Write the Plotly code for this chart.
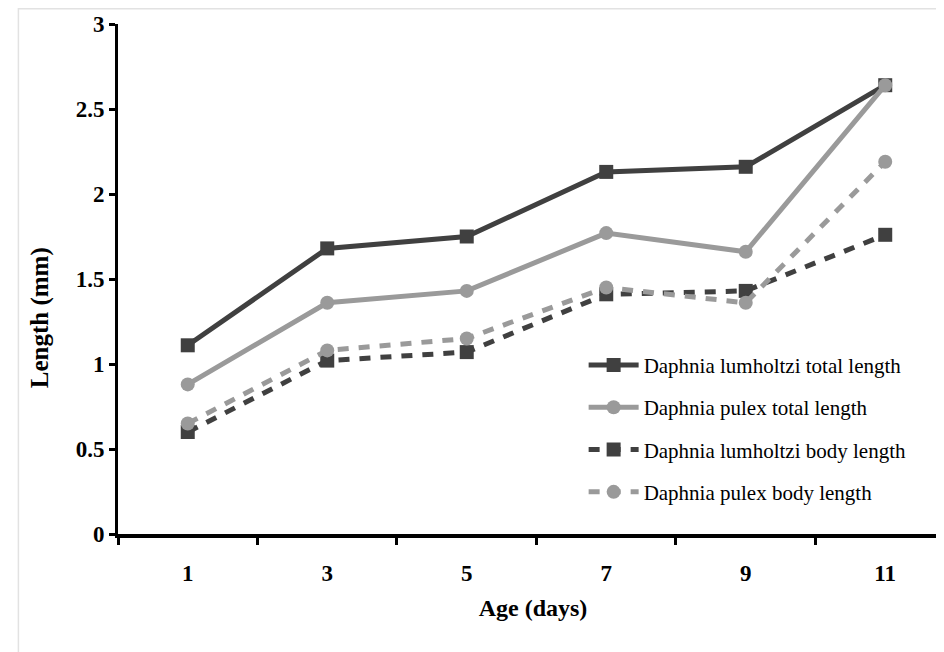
import plotly.graph_objects as go

ages = ["1", "3", "5", "7", "9", "11"]
lumholtzi_total = [1.11, 1.68, 1.75, 2.13, 2.16, 2.64]
pulex_total = [0.88, 1.36, 1.43, 1.77, 1.66, 2.64]
lumholtzi_body = [0.60, 1.02, 1.07, 1.41, 1.43, 1.76]
pulex_body = [0.65, 1.08, 1.15, 1.45, 1.36, 2.19]
y_ticks = [0, 0.5, 1, 1.5, 2, 2.5, 3]
y_tick_labels = ["0", "0.5", "1", "1.5", "2", "2.5", "3"]

DARK = "#404040"
LIGHT = "#9a9a9a"

series = [
    ("Daphnia lumholtzi total length", lumholtzi_total, DARK, "square", "solid"),
    ("Daphnia pulex total length", pulex_total, LIGHT, "circle", "solid"),
    ("Daphnia lumholtzi body length", lumholtzi_body, DARK, "square", "11px,10px"),
    ("Daphnia pulex body length", pulex_body, LIGHT, "circle", "11px,10px"),
]

fig = go.Figure()
for i, (name, vals, col, sym, dash) in enumerate(series):
    fig.add_trace(go.Scatter(
        x=ages, y=vals, name=name, mode="lines+markers",
        line=dict(color=col, width=5, dash=dash),
        marker=dict(symbol=sym, size=14, color=col),
        legendgroup=f"g{i}",
    ))

serif = "Liberation Serif, Times New Roman, serif"
fig.update_layout(
    width=944, height=652,
    paper_bgcolor="white", plot_bgcolor="white",
    margin=dict(l=110, r=4, t=16, b=126),
    font=dict(family=serif, color="black"),
    showlegend=True,
    legend=dict(
        x=0.561, y=0.371, xanchor="left", yanchor="top",
        bgcolor="rgba(0,0,0,0)", font=dict(size=21, family=serif),
        traceorder="grouped", tracegroupgap=12, itemwidth=50,
    ),
    xaxis=dict(
        type="category", range=[-0.5, 5.45], automargin=False,
        showline=True, linecolor="black", linewidth=4,
        ticks="outside", tickson="boundaries", ticklen=7, tickwidth=2.5, tickcolor="black",
        showgrid=False, zeroline=False, ticklabelstandoff=15,
        tickfont=dict(size=23, family=serif, weight="bold"),
        title=dict(text="<b>Age (days)</b>", font=dict(size=24, family=serif), standoff=16),
    ),
    yaxis=dict(
        range=[0, 3], tickmode="array", tickvals=y_ticks, ticktext=y_tick_labels,
        automargin=False,
        showline=True, linecolor="black", linewidth=3,
        ticks="outside", ticklen=6, tickwidth=2.5, tickcolor="black",
        showgrid=False, zeroline=False,
        tickfont=dict(size=23, family=serif, weight="bold"),
    ),
    annotations=[dict(text="<b>Length (mm)</b>", xref="paper", yref="paper",
                      x=-0.094, y=0.425, xanchor="center", yanchor="middle",
                      textangle=-90, showarrow=False, font=dict(size=25, family=serif))],
    shapes=[dict(type="rect", xref="paper", yref="paper", x0=-0.12, x1=1.01, y0=-0.235, y1=1.03,
                 line=dict(color="#e2e2e2", width=1.5), layer="below")],
)

fig.write_html("out.html")
